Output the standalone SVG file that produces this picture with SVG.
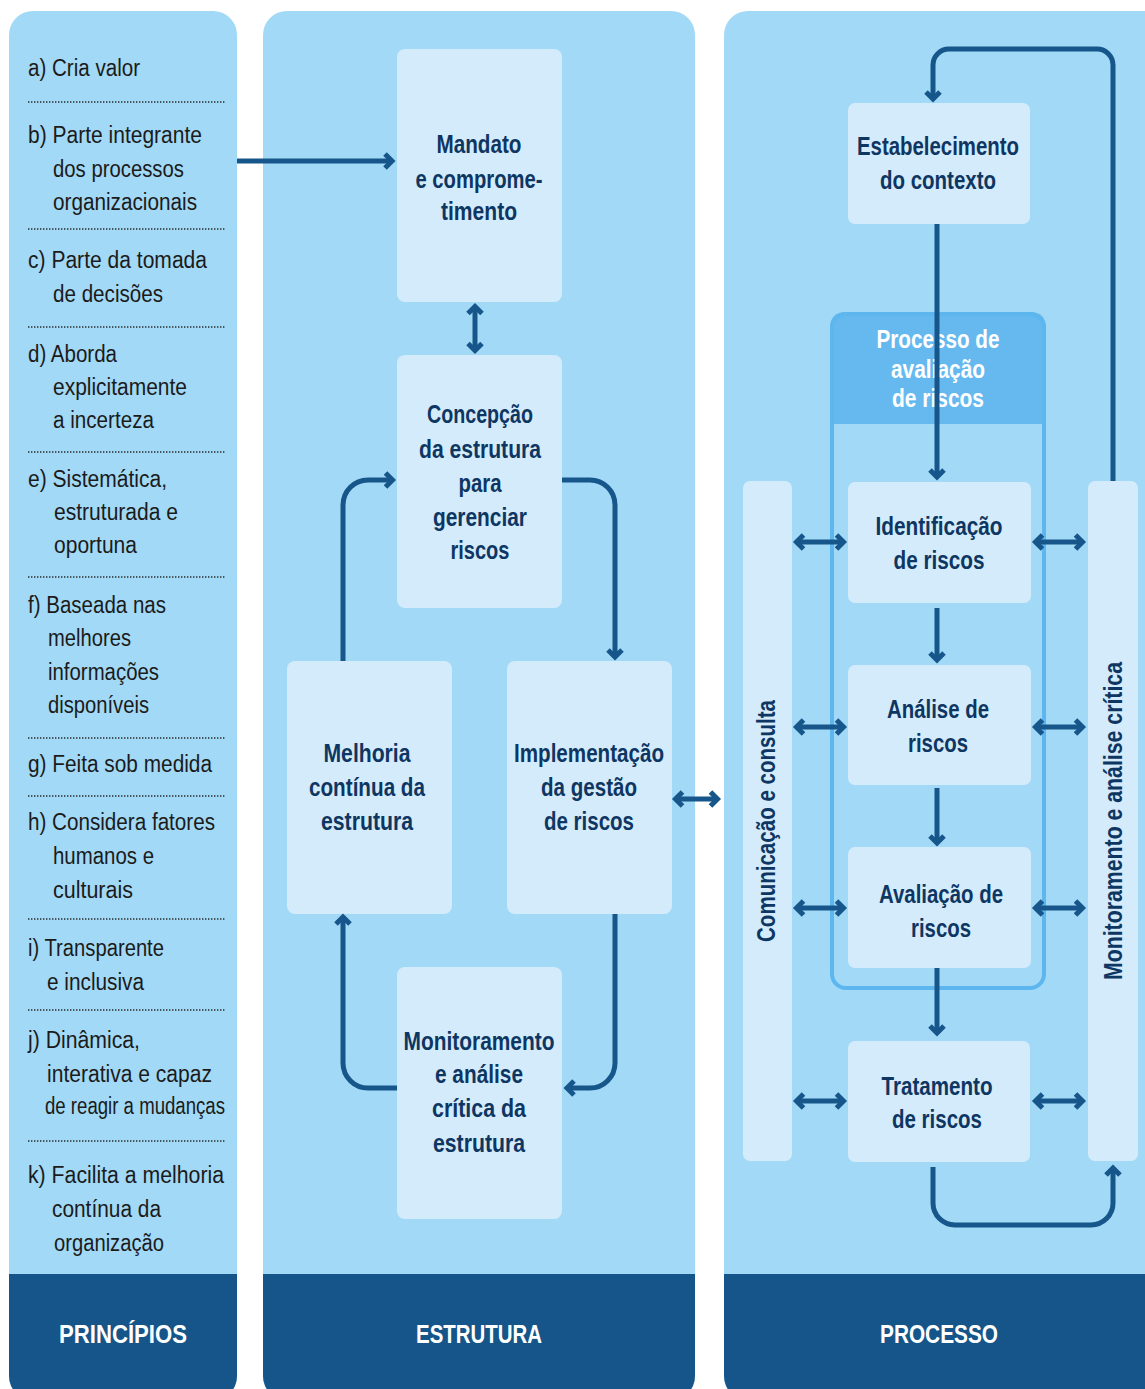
<svg xmlns="http://www.w3.org/2000/svg" width="1145" height="1389" viewBox="0 0 1145 1389">
<style>
.panel{fill:#a2d9f6}
.foot{fill:#15558a}
.node{fill:#d4ebfb}
.bar{fill:#d4ebfb}
.lt{font-family:"Liberation Sans Narrow","Liberation Sans",Arial,sans-serif;font-size:23px;fill:#1b1b1b}
.nt{font-family:"Liberation Sans Narrow","Liberation Sans",Arial,sans-serif;font-weight:bold;font-size:25px;fill:#0e3662;text-anchor:middle}
.ht{font-family:"Liberation Sans Narrow","Liberation Sans",Arial,sans-serif;font-weight:bold;font-size:25px;fill:#ffffff;text-anchor:middle}
.ft{font-family:"Liberation Sans Narrow","Liberation Sans",Arial,sans-serif;font-weight:bold;font-size:25px;fill:#ffffff;text-anchor:middle}
.dot{stroke:#2a2a2a;stroke-width:1.4;stroke-dasharray:1.4 1.6;fill:none}
.c{fill:none;stroke:#16568a;stroke-width:5}
</style>
<defs>
<marker id="ah" markerUnits="userSpaceOnUse" markerWidth="30" markerHeight="30" viewBox="0 0 30 30" refX="15" refY="15" orient="auto-start-reverse">
<path d="M8,8 L15,15 L8,22" fill="none" stroke="#16568a" stroke-width="5"/>
</marker>
</defs>

<!-- Panels -->
<g id="panel-principios">
<rect class="panel" x="9" y="11" width="228" height="1389" rx="24"/>
<path class="foot" d="M9,1274 H237 V1376 A24,24 0 0 1 213,1400 H33 A24,24 0 0 1 9,1376 Z"/>
<text class="ft" x="123" y="1343" textLength="128" lengthAdjust="spacingAndGlyphs">PRINCÍPIOS</text>
</g>
<g id="panel-estrutura">
<rect class="panel" x="263" y="11" width="432" height="1389" rx="24"/>
<path class="foot" d="M263,1274 H695 V1376 A24,24 0 0 1 671,1400 H287 A24,24 0 0 1 263,1376 Z"/>
<text class="ft" x="479" y="1343" textLength="126" lengthAdjust="spacingAndGlyphs">ESTRUTURA</text>
</g>
<g id="panel-processo">
<rect class="panel" x="724" y="11" width="450" height="1389" rx="24"/>
<path class="foot" d="M724,1274 H1174 V1400 H748 A24,24 0 0 1 724,1376 Z"/>
<text class="ft" x="939" y="1343" textLength="118" lengthAdjust="spacingAndGlyphs">PROCESSO</text>
</g>

<!-- Principles list -->
<g id="principios-list">
<text class="lt" x="28" y="76" textLength="112" lengthAdjust="spacingAndGlyphs">a) Cria valor</text>
<line class="dot" x1="28" y1="102" x2="225" y2="102"/>
<text class="lt" x="28" y="143" textLength="174" lengthAdjust="spacingAndGlyphs">b) Parte integrante</text>
<text class="lt" x="53" y="177" textLength="131" lengthAdjust="spacingAndGlyphs">dos processos</text>
<text class="lt" x="53" y="210" textLength="144" lengthAdjust="spacingAndGlyphs">organizacionais</text>
<line class="dot" x1="28" y1="229" x2="225" y2="229"/>
<text class="lt" x="28" y="268" textLength="179" lengthAdjust="spacingAndGlyphs">c) Parte da tomada</text>
<text class="lt" x="53" y="302" textLength="110" lengthAdjust="spacingAndGlyphs">de decisões</text>
<line class="dot" x1="28" y1="327" x2="225" y2="327"/>
<text class="lt" x="28" y="362" textLength="89" lengthAdjust="spacingAndGlyphs">d) Aborda</text>
<text class="lt" x="53" y="395" textLength="134" lengthAdjust="spacingAndGlyphs">explicitamente</text>
<text class="lt" x="53" y="428" textLength="101" lengthAdjust="spacingAndGlyphs">a incerteza</text>
<line class="dot" x1="28" y1="452" x2="225" y2="452"/>
<text class="lt" x="28" y="487" textLength="139" lengthAdjust="spacingAndGlyphs">e) Sistemática,</text>
<text class="lt" x="54" y="520" textLength="124" lengthAdjust="spacingAndGlyphs">estruturada e</text>
<text class="lt" x="54" y="553" textLength="83" lengthAdjust="spacingAndGlyphs">oportuna</text>
<line class="dot" x1="28" y1="577" x2="225" y2="577"/>
<text class="lt" x="28" y="613" textLength="138" lengthAdjust="spacingAndGlyphs">f) Baseada nas</text>
<text class="lt" x="48" y="646" textLength="83" lengthAdjust="spacingAndGlyphs">melhores</text>
<text class="lt" x="48" y="680" textLength="111" lengthAdjust="spacingAndGlyphs">informações</text>
<text class="lt" x="48" y="713" textLength="101" lengthAdjust="spacingAndGlyphs">disponíveis</text>
<line class="dot" x1="28" y1="738" x2="225" y2="738"/>
<text class="lt" x="28" y="772" textLength="184" lengthAdjust="spacingAndGlyphs">g) Feita sob medida</text>
<line class="dot" x1="28" y1="796" x2="225" y2="796"/>
<text class="lt" x="28" y="830" textLength="187" lengthAdjust="spacingAndGlyphs">h) Considera fatores</text>
<text class="lt" x="53" y="864" textLength="101" lengthAdjust="spacingAndGlyphs">humanos e</text>
<text class="lt" x="53" y="898" textLength="80" lengthAdjust="spacingAndGlyphs">culturais</text>
<line class="dot" x1="28" y1="919" x2="225" y2="919"/>
<text class="lt" x="28" y="956" textLength="136" lengthAdjust="spacingAndGlyphs">i) Transparente</text>
<text class="lt" x="47" y="990" textLength="97" lengthAdjust="spacingAndGlyphs">e inclusiva</text>
<line class="dot" x1="28" y1="1010" x2="225" y2="1010"/>
<text class="lt" x="28" y="1048" textLength="112" lengthAdjust="spacingAndGlyphs">j) Dinâmica,</text>
<text class="lt" x="47" y="1082" textLength="165" lengthAdjust="spacingAndGlyphs">interativa e capaz</text>
<text class="lt" x="45" y="1114" textLength="180" lengthAdjust="spacingAndGlyphs">de reagir a mudanças</text>
<line class="dot" x1="28" y1="1141" x2="225" y2="1141"/>
<text class="lt" x="28" y="1183" textLength="196" lengthAdjust="spacingAndGlyphs">k) Facilita a melhoria</text>
<text class="lt" x="52" y="1217" textLength="109" lengthAdjust="spacingAndGlyphs">contínua da</text>
<text class="lt" x="54" y="1251" textLength="110" lengthAdjust="spacingAndGlyphs">organização</text>
</g>

<!-- Estrutura nodes -->
<g id="mandato">
<rect class="node" x="397" y="49" width="165" height="253" rx="8"/>
<text class="nt" x="479" y="153" textLength="85" lengthAdjust="spacingAndGlyphs">Mandato</text>
<text class="nt" x="479" y="188" textLength="127" lengthAdjust="spacingAndGlyphs">e comprome-</text>
<text class="nt" x="479" y="220" textLength="76" lengthAdjust="spacingAndGlyphs">timento</text>
</g>
<g id="concepcao">
<rect class="node" x="397" y="355" width="165" height="253" rx="8"/>
<text class="nt" x="480" y="423" textLength="106" lengthAdjust="spacingAndGlyphs">Concepção</text>
<text class="nt" x="480" y="458" textLength="122" lengthAdjust="spacingAndGlyphs">da estrutura</text>
<text class="nt" x="480" y="492" textLength="43" lengthAdjust="spacingAndGlyphs">para</text>
<text class="nt" x="480" y="526" textLength="94" lengthAdjust="spacingAndGlyphs">gerenciar</text>
<text class="nt" x="480" y="559" textLength="59" lengthAdjust="spacingAndGlyphs">riscos</text>
</g>
<g id="melhoria">
<rect class="node" x="287" y="661" width="165" height="253" rx="8"/>
<text class="nt" x="367" y="762" textLength="87" lengthAdjust="spacingAndGlyphs">Melhoria</text>
<text class="nt" x="367" y="796" textLength="116" lengthAdjust="spacingAndGlyphs">contínua da</text>
<text class="nt" x="367" y="830" textLength="92" lengthAdjust="spacingAndGlyphs">estrutura</text>
</g>
<g id="implementacao">
<rect class="node" x="507" y="661" width="165" height="253" rx="8"/>
<text class="nt" x="589" y="762" textLength="150" lengthAdjust="spacingAndGlyphs">Implementação</text>
<text class="nt" x="589" y="796" textLength="96" lengthAdjust="spacingAndGlyphs">da gestão</text>
<text class="nt" x="589" y="830" textLength="90" lengthAdjust="spacingAndGlyphs">de riscos</text>
</g>
<g id="monitoramento-estrutura">
<rect class="node" x="397" y="967" width="165" height="252" rx="8"/>
<text class="nt" x="479" y="1050" textLength="151" lengthAdjust="spacingAndGlyphs">Monitoramento</text>
<text class="nt" x="479" y="1083" textLength="88" lengthAdjust="spacingAndGlyphs">e análise</text>
<text class="nt" x="479" y="1117" textLength="94" lengthAdjust="spacingAndGlyphs">crítica da</text>
<text class="nt" x="479" y="1152" textLength="92" lengthAdjust="spacingAndGlyphs">estrutura</text>
</g>

<!-- Processo nodes -->
<g id="processo-avaliacao">
<path d="M830,424 V328 Q830,312 846,312 H1030 Q1046,312 1046,328 V424 Z" fill="#66b9ef"/>
<rect x="832" y="314" width="212" height="674" rx="14" fill="none" stroke="#5db6ee" stroke-width="4"/>
<text class="ht" x="938" y="348" textLength="123" lengthAdjust="spacingAndGlyphs">Processo de</text>
<text class="ht" x="938" y="378" textLength="94" lengthAdjust="spacingAndGlyphs">avaliação</text>
<text class="ht" x="938" y="407" textLength="92" lengthAdjust="spacingAndGlyphs">de riscos</text>
</g>
<g id="estabelecimento">
<rect class="node" x="848" y="103" width="182" height="121" rx="7"/>
<text class="nt" x="938" y="155" textLength="162" lengthAdjust="spacingAndGlyphs">Estabelecimento</text>
<text class="nt" x="938" y="189" textLength="116" lengthAdjust="spacingAndGlyphs">do contexto</text>
</g>
<g id="identificacao">
<rect class="node" x="848" y="482" width="183" height="121" rx="7"/>
<text class="nt" x="939" y="535" textLength="127" lengthAdjust="spacingAndGlyphs">Identificação</text>
<text class="nt" x="939" y="569" textLength="91" lengthAdjust="spacingAndGlyphs">de riscos</text>
</g>
<g id="analise">
<rect class="node" x="848" y="665" width="183" height="120" rx="7"/>
<text class="nt" x="938" y="718" textLength="102" lengthAdjust="spacingAndGlyphs">Análise de</text>
<text class="nt" x="938" y="752" textLength="60" lengthAdjust="spacingAndGlyphs">riscos</text>
</g>
<g id="avaliacao">
<rect class="node" x="848" y="847" width="183" height="121" rx="7"/>
<text class="nt" x="941" y="903" textLength="124" lengthAdjust="spacingAndGlyphs">Avaliação de</text>
<text class="nt" x="941" y="937" textLength="60" lengthAdjust="spacingAndGlyphs">riscos</text>
</g>
<g id="tratamento">
<rect class="node" x="848" y="1041" width="182" height="121" rx="7"/>
<text class="nt" x="937" y="1095" textLength="111" lengthAdjust="spacingAndGlyphs">Tratamento</text>
<text class="nt" x="937" y="1128" textLength="90" lengthAdjust="spacingAndGlyphs">de riscos</text>
</g>
<g id="comunicacao">
<rect class="bar" x="743" y="481" width="49" height="680" rx="7"/>
<text class="nt" transform="translate(775,821) rotate(-90)" x="0" y="0" textLength="242" lengthAdjust="spacingAndGlyphs">Comunicação e consulta</text>
</g>
<g id="monitoramento-processo">
<rect class="bar" x="1088" y="481" width="50" height="680" rx="7"/>
<text class="nt" transform="translate(1122,821) rotate(-90)" x="0" y="0" textLength="318" lengthAdjust="spacingAndGlyphs">Monitoramento e análise crítica</text>
</g>

<!-- Connectors -->
<g id="connectors">
<path class="c" d="M237,161 H392" marker-end="url(#ah)"/>
<path class="c" d="M475,306.5 V350.5" marker-start="url(#ah)" marker-end="url(#ah)"/>
<path class="c" d="M562,480 H590 A25,25 0 0 1 615,505 V657" marker-end="url(#ah)"/>
<path class="c" d="M615,914 V1063 A25,25 0 0 1 590,1088 H567" marker-end="url(#ah)"/>
<path class="c" d="M397,1088 H368 A25,25 0 0 1 343,1063 V917" marker-end="url(#ah)"/>
<path class="c" d="M343,661 V505 A25,25 0 0 1 368,480 H392.5" marker-end="url(#ah)"/>
<path class="c" d="M675.5,799 H717.5" marker-start="url(#ah)" marker-end="url(#ah)"/>
<path class="c" d="M1113,481 V65 A16,16 0 0 0 1097,49 H949 A16,16 0 0 0 933,65 V99" marker-end="url(#ah)"/>
<path class="c" d="M937,224 V477" marker-end="url(#ah)"/>
<path class="c" d="M937,608 V660" marker-end="url(#ah)"/>
<path class="c" d="M937,788 V843" marker-end="url(#ah)"/>
<path class="c" d="M937,968 V1033" marker-end="url(#ah)"/>
<path class="c" d="M933,1167 V1203 A22,22 0 0 0 955,1225 H1091 A22,22 0 0 0 1113,1203 V1168" marker-end="url(#ah)"/>
<path class="c" d="M796.5,542 H843.5" marker-start="url(#ah)" marker-end="url(#ah)"/>
<path class="c" d="M796.5,727 H843.5" marker-start="url(#ah)" marker-end="url(#ah)"/>
<path class="c" d="M796.5,908 H843.5" marker-start="url(#ah)" marker-end="url(#ah)"/>
<path class="c" d="M796.5,1101 H843.5" marker-start="url(#ah)" marker-end="url(#ah)"/>
<path class="c" d="M1035.5,542 H1082.5" marker-start="url(#ah)" marker-end="url(#ah)"/>
<path class="c" d="M1035.5,727 H1082.5" marker-start="url(#ah)" marker-end="url(#ah)"/>
<path class="c" d="M1035.5,908 H1082.5" marker-start="url(#ah)" marker-end="url(#ah)"/>
<path class="c" d="M1035.5,1101 H1082.5" marker-start="url(#ah)" marker-end="url(#ah)"/>
</g>
</svg>
